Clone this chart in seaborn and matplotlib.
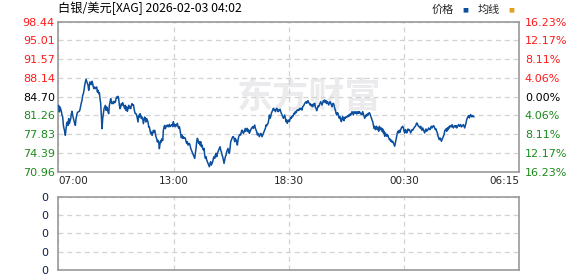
import numpy as np
import pandas as pd
import matplotlib
matplotlib.use("Agg")
import matplotlib.pyplot as plt
import seaborn as sns

# ---------------- data ----------------
seg_0700 = [83.12, 81.90, 82.81, 82.39, 82.02, 81.29, 80.98, 79.45, 78.84, 78.35,
            77.62, 78.84, 79.76, 80.06, 79.45, 80.68, 79.76, 80.19, 80.68, 81.59,
            82.02, 81.29, 80.80, 80.37, 79.76, 79.45, 80.68, 81.29, 81.78, 81.90,
            81.96, 82.02, 82.39, 83.00, 83.61, 84.04, 84.95, 85.26, 85.87, 86.79,
            87.40, 87.89, 87.52, 87.09, 86.79, 85.87, 86.79, 87.40, 87.09, 86.91,
            87.52, 87.09, 86.48, 86.17, 86.48, 86.17, 86.30, 86.48, 85.56, 85.87,
            85.26, 85.44, 84.34, 83.43, 81.29, 78.84, 80.68, 81.59, 82.51, 82.81,
            83.12, 82.20, 82.81, 82.51, 81.90, 81.59, 83.12, 83.73, 84.34, 83.61,
            83.43, 83.73, 83.43, 83.85, 83.61, 83.73, 84.34, 84.65, 84.46, 84.77,
            84.34, 83.12, 82.51, 82.81, 83.43, 83.12, 83.61, 83.24, 82.81, 82.51,
            83.12, 82.20, 82.81, 82.02, 82.51, 83.12, 82.63, 82.81, 82.51, 83.12,
            83.43, 83.12, 83.24, 82.51, 81.90, 81.59, 81.59, 81.29, 80.68, 80.06,
            81.29, 80.98, 81.59, 81.29, 80.68, 80.98, 80.68, 79.76, 80.37, 80.98,
            80.68, 80.06, 80.68, 80.37, 80.06, 79.15, 79.15, 78.54, 77.93, 78.23,
            77.62, 77.93, 78.54, 78.23, 78.54, 77.93, 77.32, 77.01, 76.40, 76.70,
            76.40, 75.18, 76.09, 76.70, 76.40, 77.01, 76.70, 78.54, 79.15, 79.45,
            78.84]
seg_1300 = [79.21, 79.39, 79.51, 79.21, 79.21, 79.63, 79.21, 79.33, 79.51, 79.63,
            79.21, 80.12, 79.39, 79.63, 79.21, 79.51, 79.39, 79.82, 79.21, 78.90,
            79.21, 78.59, 77.80, 77.19, 77.68, 77.07, 77.37, 77.07, 77.19, 77.07,
            76.46, 76.15, 76.46, 75.84, 75.97, 76.15, 75.84, 75.23, 74.93, 74.62,
            74.32, 74.01, 73.71, 73.40, 74.32, 75.23, 76.46, 77.07, 76.76, 76.15,
            76.46, 75.84, 76.46, 75.54, 75.84, 75.23, 74.93, 75.23, 74.01, 73.40,
            73.71, 73.10, 72.79, 72.48, 72.18, 71.87, 72.48, 72.79, 72.18, 72.48,
            72.79, 73.40, 73.71, 73.40, 74.01, 74.32, 73.71, 74.32, 74.62, 74.93,
            75.23, 75.54, 74.93, 74.62, 74.01, 73.71, 73.10, 72.48, 73.10, 73.71,
            74.01, 74.62, 74.93, 75.23, 74.62, 74.32, 75.23, 76.46, 76.76, 77.07,
            77.37, 77.37, 77.07, 76.46, 77.07, 76.76, 76.46, 75.84, 76.76, 77.37,
            77.68, 77.80, 77.68, 78.29, 78.59, 78.29, 77.98, 78.41, 78.29, 78.90,
            78.41, 78.59, 78.90, 78.29, 78.59, 77.98, 78.29, 78.59, 78.90, 79.02,
            79.21, 78.90, 79.21, 79.51, 78.90, 78.59, 78.29, 77.68, 77.98, 77.80,
            77.37, 77.68, 77.98, 77.80, 77.37, 77.68, 77.98, 78.29, 78.59, 78.90,
            79.51, 79.39, 79.63, 79.82, 80.43, 81.34]
seg_1830 = [80.74, 81.04, 81.65, 81.96, 82.26, 82.57, 82.26, 82.39, 81.96, 82.26,
            82.57, 82.39, 81.96, 82.26, 82.14, 82.39, 81.96, 81.65, 81.35, 81.04,
            80.74, 81.04, 81.35, 80.74, 80.13, 80.43, 79.82, 80.31, 80.43, 80.13,
            80.55, 80.92, 80.74, 81.16, 81.04, 81.35, 81.65, 81.53, 81.96, 81.78,
            82.14, 82.26, 82.14, 82.39, 82.26, 82.57, 82.39, 82.57, 82.26, 82.87,
            83.00, 83.18, 83.49, 83.61, 83.79, 83.49, 83.79, 83.97, 83.61, 83.49,
            83.18, 83.36, 83.00, 83.18, 82.87, 83.36, 83.18, 83.49, 82.75, 82.57,
            82.14, 82.57, 83.00, 82.87, 83.18, 83.49, 83.79, 83.49, 83.18, 83.61,
            83.97, 83.79, 84.10, 83.61, 83.97, 83.49, 83.79, 83.61, 83.18, 83.49,
            83.79, 83.61, 83.18, 82.87, 83.36, 83.49, 83.18, 82.57, 82.26, 81.65,
            81.35, 81.78, 81.65, 81.04, 80.74, 81.04, 80.43, 80.13, 80.74, 81.04,
            80.43, 80.31, 80.92, 80.74, 81.04, 80.92, 81.16, 81.04, 81.35, 81.16,
            81.53, 81.35, 81.65, 81.96, 81.65, 81.35, 81.96, 81.78, 81.65, 81.96,
            81.53, 81.78, 81.96, 81.65, 81.96, 81.78, 81.53, 81.65, 81.35, 81.96,
            81.53, 81.04, 80.74, 81.04, 81.35, 81.16, 81.53, 81.35, 81.65, 81.78,
            81.53, 81.16, 80.74, 80.43, 80.13, 79.51, 78.90]
seg_0030 = [79.28, 78.67, 78.98, 79.28, 78.67, 78.98, 78.37, 79.28, 78.98, 78.67,
            78.98, 78.37, 78.79, 78.06, 78.37, 77.45, 78.06, 77.75, 77.45, 77.75,
            77.57, 77.14, 76.84, 76.96, 76.53, 76.72, 76.35, 76.53, 76.23, 75.92,
            75.62, 76.23, 76.84, 77.45, 78.06, 78.37, 78.06, 78.55, 78.18, 78.67,
            78.98, 79.16, 79.28, 78.98, 78.37, 78.06, 78.67, 78.55, 78.06, 78.37,
            78.79, 78.55, 78.67, 78.37, 78.06, 78.37, 78.67, 78.55, 78.79, 78.98,
            79.16, 79.28, 79.59, 79.89, 79.77, 79.40, 79.28, 79.16, 78.98, 79.28,
            78.79, 78.55, 78.98, 78.67, 78.37, 78.06, 78.55, 78.79, 78.37, 78.55,
            78.67, 78.98, 78.79, 78.67, 78.98, 79.28, 78.98, 79.16, 79.40, 79.28,
            78.98, 78.67, 78.79, 78.37, 78.06, 77.45, 77.14, 76.84, 77.14, 76.96,
            76.53, 76.84, 77.14, 77.45, 77.75, 78.37, 78.67, 78.79, 78.37, 78.98,
            78.67, 79.16, 78.98, 79.40, 79.28, 79.16, 79.59, 79.28, 78.98, 79.28,
            79.40, 79.16, 79.40, 78.98, 79.28, 79.40, 79.59, 79.28, 79.40, 79.59,
            79.16, 79.28, 79.40, 79.59, 79.28, 78.98, 79.40, 79.89, 80.50, 80.81,
            81.11, 81.24, 80.81, 81.24, 81.42, 81.11, 80.99, 81.24, 81.11, 80.99]

price_ticks = [98.44, 95.01, 91.57, 88.14, 84.70, 81.26, 77.83, 74.39, 70.96]
pct_labels = ["16.23%", "12.17%", "8.11%", "4.06%", "0.00%",
              "4.06%", "8.11%", "12.17%", "16.23%"]
time_labels = ["07:00", "13:00", "18:30", "00:30", "06:15"]
prev_close = 84.70
volume_labels = ["0", "0", "0", "0", "0"]

title_text = "白银/美元[XAG] 2026-02-03 04:02"
legend_items = ["价格", "均线"]
watermark = "东方财富"

# ---------------- build table ----------------
prices = seg_0700 + seg_1300 + seg_1830 + seg_0030
df = pd.DataFrame({"slot": np.arange(len(prices)) * 1.0, "price": prices})
x_min, x_max = -0.6, 690.9   # full trading-session width in sampling slots

# ---------------- figure ----------------
sns.set_theme(style="white")
plt.rcParams['font.family'] = ['Noto Sans CJK SC', 'DejaVu Sans']

W, H = 578, 276
fig = plt.figure(figsize=(W / 100, H / 100), dpi=100)
fig.patch.set_facecolor("white")

def fx(px):
    return px / W

def fy(py):
    return 1 - py / H

L, R = 58.3, 519.3
ax = fig.add_axes([fx(L), fy(171.7), fx(R) - fx(L), fy(21.7) - fy(171.7)])
axv = fig.add_axes([fx(L), fy(270.0), fx(R) - fx(L), fy(196.7) - fy(270.0)])

LINE = "#0b4f9e"
GRID = "#d2d2d2"
FRAME = "#9a9a9a"
RED = "#ff1a1a"
GREEN = "#1a8a1a"

xt = np.linspace(x_min, x_max, len(time_labels))

# main price panel
ax.text(0.545, 0.50, watermark, transform=ax.transAxes, ha="center", va="center",
        fontsize=26, fontweight="bold", color="#ebebee", zorder=0,
        family=['Noto Sans CJK SC'])
sns.lineplot(data=df, x="slot", y="price", ax=ax, color=LINE, linewidth=1.1,
             zorder=3, legend=False)
ax.set_xlim(x_min, x_max)
ax.set_ylim(price_ticks[-1], price_ticks[0])
ax.set_xlabel("")
ax.set_ylabel("")
ax.set_yticks(price_ticks)
ax.set_yticklabels([f"{v:.2f}" for v in price_ticks], family="DejaVu Sans", fontsize=8)
for lab, v in zip(ax.get_yticklabels(), price_ticks):
    lab.set_color(RED if v > prev_close + 1e-6 else (GREEN if v < prev_close - 1e-6 else "black"))
ax.set_xticks(xt)
ax.set_xticklabels(time_labels, family="DejaVu Sans", fontsize=7.5)
xl = ax.get_xticklabels()
xl[0].set_ha("left")
xl[-1].set_ha("right")
ax.tick_params(axis="both", length=0, pad=2.5)
ax.tick_params(axis="x", pad=3)
ax.grid(True, color=GRID, linestyle=(0, (4, 3)), linewidth=0.9)
for s in ax.spines.values():
    s.set_color(FRAME)
    s.set_linewidth(1.2)

axr = ax.twinx()
axr.set_ylim(price_ticks[-1], price_ticks[0])
axr.set_yticks(price_ticks)
axr.set_yticklabels(pct_labels, family="DejaVu Sans", fontsize=8)
for lab, v in zip(axr.get_yticklabels(), price_ticks):
    lab.set_color(RED if v > prev_close + 1e-6 else (GREEN if v < prev_close - 1e-6 else "black"))
axr.tick_params(axis="y", length=0, pad=4)
axr.grid(False)
for s in axr.spines.values():
    s.set_visible(False)

# volume panel (empty)
axv.set_xlim(x_min, x_max)
axv.set_ylim(0, len(volume_labels) - 1)
axv.set_yticks(np.arange(len(volume_labels)))
axv.set_yticklabels(volume_labels, family="DejaVu Sans", fontsize=8, color="#10204a")
axv.set_xticks(xt)
axv.set_xticklabels([])
axv.tick_params(axis="both", length=0, pad=7)
axv.grid(True, color=GRID, linestyle=(0, (4, 3)), linewidth=0.9)
for s in axv.spines.values():
    s.set_color(FRAME)
    s.set_linewidth(1.2)

# title and legend
fig.text(fx(58.5), fy(8.5), title_text, fontsize=8.8, color="black",
         ha="left", va="center", family=['Noto Sans CJK SC', 'DejaVu Sans'])
fig.text(fx(432), fy(9.5), legend_items[0], fontsize=8, ha="left", va="center")
fig.text(fx(465), fy(10), "■", fontsize=4.5, color="#0b4f9e", ha="center", va="center",
         family="DejaVu Sans")
fig.text(fx(478), fy(9.5), legend_items[1], fontsize=8, ha="left", va="center")
fig.text(fx(511), fy(10), "■", fontsize=4.5, color="#e0a020", ha="center", va="center",
         family="DejaVu Sans")

fig.savefig("out.png", dpi=100, facecolor="white")
